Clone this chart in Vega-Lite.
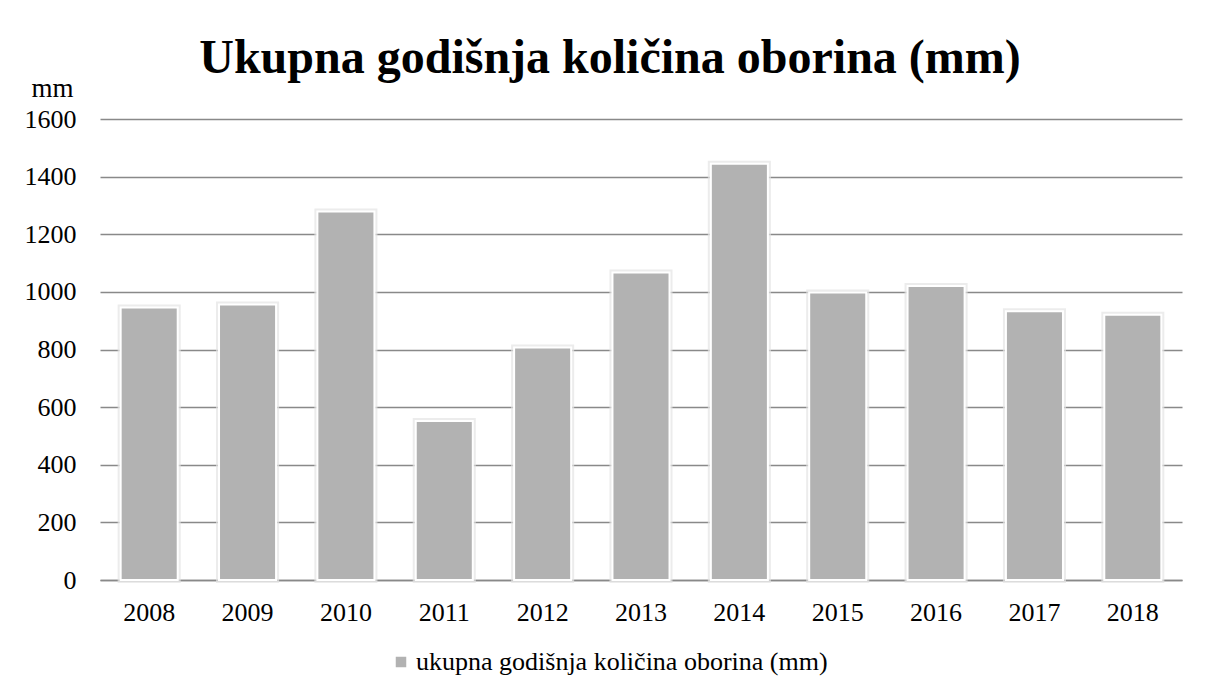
{
  "$schema": "https://vega.github.io/schema/vega-lite/v6.json",
  "width": 1082,
  "height": 461,
  "autosize": "none",
  "padding": {"left": 100, "top": 119, "right": 28, "bottom": 114},
  "background": "white",
  "config": {
    "font": "Liberation Serif",
    "view": {"stroke": null}
  },
  "title": {
    "text": "Ukupna godišnja količina oborina (mm)",
    "font": "Liberation Serif",
    "fontSize": 48,
    "fontWeight": "bold",
    "color": "black",
    "anchor": "middle",
    "dx": -31,
    "offset": -9
  },
  "data": {
    "values": [
      {"godina": "2008", "oborina": 946, "serija": "ukupna godišnja količina oborina (mm)"},
      {"godina": "2009", "oborina": 956, "serija": "ukupna godišnja količina oborina (mm)"},
      {"godina": "2010", "oborina": 1279, "serija": "ukupna godišnja količina oborina (mm)"},
      {"godina": "2011", "oborina": 552, "serija": "ukupna godišnja količina oborina (mm)"},
      {"godina": "2012", "oborina": 807, "serija": "ukupna godišnja količina oborina (mm)"},
      {"godina": "2013", "oborina": 1067, "serija": "ukupna godišnja količina oborina (mm)"},
      {"godina": "2014", "oborina": 1445, "serija": "ukupna godišnja količina oborina (mm)"},
      {"godina": "2015", "oborina": 998, "serija": "ukupna godišnja količina oborina (mm)"},
      {"godina": "2016", "oborina": 1020, "serija": "ukupna godišnja količina oborina (mm)"},
      {"godina": "2017", "oborina": 933, "serija": "ukupna godišnja količina oborina (mm)"},
      {"godina": "2018", "oborina": 921, "serija": "ukupna godišnja količina oborina (mm)"}
    ]
  },
  "encoding": {
    "x": {
      "field": "godina",
      "type": "nominal",
      "sort": null,
      "scale": {"paddingInner": 0.42, "paddingOuter": 0.21},
      "axis": {
        "title": null,
        "labelAngle": 0,
        "labelFont": "Liberation Serif",
        "labelFontSize": 26,
        "labelColor": "black",
        "labelPadding": 19,
        "ticks": false,
        "domainColor": "#898989",
        "domainWidth": 1.5,
        "grid": false
      }
    },
    "y": {
      "field": "oborina",
      "type": "quantitative",
      "scale": {"domain": [0, 1600], "nice": false},
      "axis": {
        "title": "mm",
        "titleAngle": 0,
        "titleFont": "Liberation Serif",
        "titleFontSize": 27,
        "titleFontWeight": "normal",
        "titleColor": "black",
        "titleX": -48,
        "titleY": -31,
        "titleAlign": "center",
        "titleBaseline": "middle",
        "values": [0, 200, 400, 600, 800, 1000, 1200, 1400, 1600],
        "format": "d",
        "labelFont": "Liberation Serif",
        "labelFontSize": 26,
        "labelColor": "black",
        "labelPadding": 24,
        "ticks": false,
        "domain": false,
        "grid": true,
        "gridColor": "#898989",
        "gridWidth": 1.5
      }
    }
  },
  "layer": [
    {
      "mark": {"type": "bar", "stroke": "#e4e4e4", "strokeWidth": 6, "strokeOpacity": 0.7, "fill": "#b2b2b2"},
      "encoding": {}
    },
    {
      "mark": {"type": "bar", "stroke": "white", "strokeWidth": 2},
      "encoding": {
        "color": {
          "field": "serija",
          "type": "nominal",
          "scale": {"range": ["#b2b2b2"]},
          "legend": {
            "title": null,
            "orient": "none",
            "legendX": 288,
            "legendY": 530,
            "direction": "horizontal",
            "symbolType": "square",
            "symbolSize": 110,
            "symbolStrokeWidth": 0,
            "labelFont": "Liberation Serif",
            "labelFontSize": 26,
            "labelColor": "black",
            "labelLimit": 700,
            "labelOffset": 2
          }
        }
      }
    }
  ]
}
